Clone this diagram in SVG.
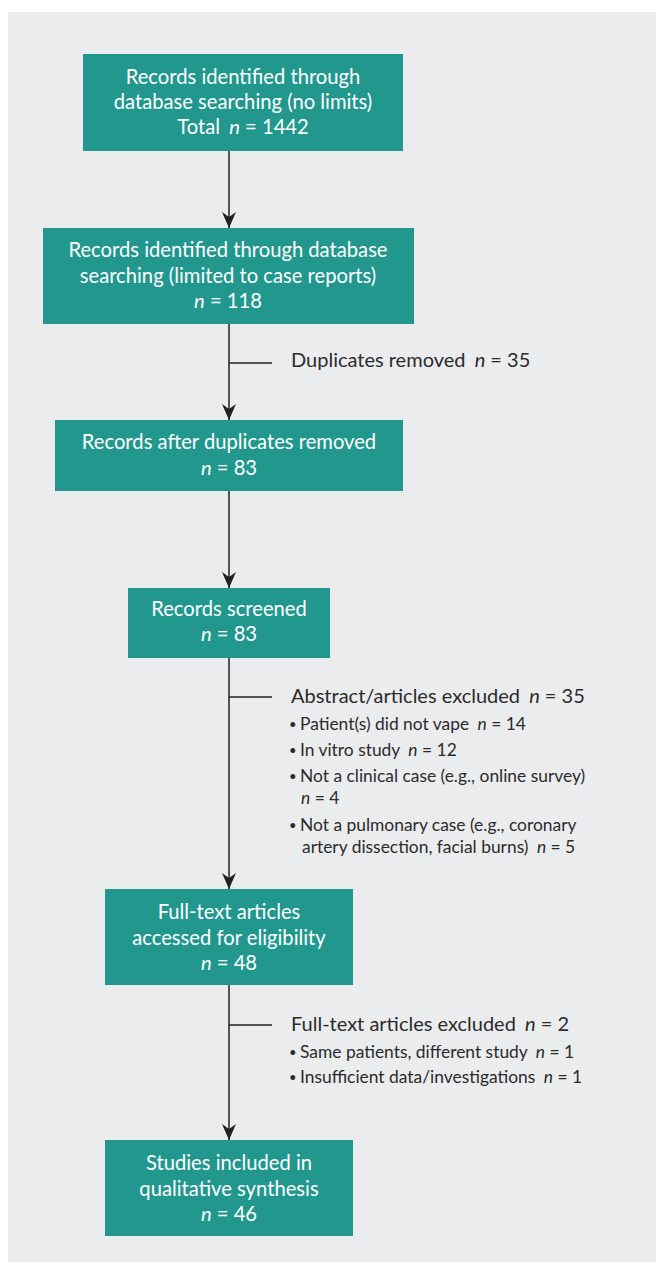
<svg xmlns="http://www.w3.org/2000/svg" width="656" height="1268" viewBox="0 0 656 1268">
<style>
.bx{fill:#21978e}
.bt{font-family:Lato,"Liberation Sans",sans-serif;font-size:20.2px;fill:#ffffff;text-anchor:middle}
.hd{font-family:Lato,"Liberation Sans",sans-serif;font-size:20px;fill:#2b2b2b}
.bl{font-family:Lato,"Liberation Sans",sans-serif;font-size:17.4px;fill:#2b2b2b}
.bu{font-size:13px}
.ln{stroke:#222;stroke-width:1.5;fill:none}
.it{font-style:italic}
</style>
<defs>
<marker id="ah" viewBox="0 0 16 14" refX="16" refY="7" markerWidth="16" markerHeight="14" markerUnits="userSpaceOnUse" orient="auto">
<path d="M0,0 L16,7 L0,14 L5,7 Z" fill="#222"/>
</marker>
</defs>
<rect x="8" y="12" width="648" height="1250" fill="#ebecee"/>
<g id="connectors">
<line class="ln" x1="229" y1="151" x2="229" y2="228" marker-end="url(#ah)"/>
<line class="ln" x1="229" y1="324" x2="229" y2="420" marker-end="url(#ah)"/>
<line class="ln" x1="229" y1="363" x2="272" y2="363"/>
<line class="ln" x1="229" y1="491" x2="229" y2="588" marker-end="url(#ah)"/>
<line class="ln" x1="229" y1="658" x2="229" y2="889" marker-end="url(#ah)"/>
<line class="ln" x1="229" y1="697" x2="272" y2="697"/>
<line class="ln" x1="229" y1="985" x2="229" y2="1140" marker-end="url(#ah)"/>
<line class="ln" x1="229" y1="1025" x2="272" y2="1025"/>
</g>
<g id="n1">
<rect class="bx" x="83" y="54" width="320" height="97"/>
<text class="bt" x="243" y="84">Records identified through</text>
<text class="bt" x="243" y="109">database searching (no limits)</text>
<text class="bt" x="243" y="134">Total <tspan class="it" dx="4">n</tspan> = 1442</text>
</g>
<g id="n2">
<rect class="bx" x="43" y="228" width="371" height="96"/>
<text class="bt" x="228" y="257">Records identified through database</text>
<text class="bt" x="228" y="283">searching (limited to case reports)</text>
<text class="bt" x="228" y="308"><tspan class="it">n</tspan> = 118</text>
</g>
<g id="n3">
<rect class="bx" x="55" y="420" width="348" height="71"/>
<text class="bt" x="229" y="449">Records after duplicates removed</text>
<text class="bt" x="229" y="475"><tspan class="it">n</tspan> = 83</text>
</g>
<g id="n4">
<rect class="bx" x="128" y="588" width="202" height="70"/>
<text class="bt" x="229" y="616">Records screened</text>
<text class="bt" x="229" y="641"><tspan class="it">n</tspan> = 83</text>
</g>
<g id="n5">
<rect class="bx" x="105" y="889" width="248" height="96"/>
<text class="bt" x="229" y="919">Full-text articles</text>
<text class="bt" x="229" y="945">accessed for eligibility</text>
<text class="bt" x="229" y="970"><tspan class="it">n</tspan> = 48</text>
</g>
<g id="n6">
<rect class="bx" x="105" y="1140" width="248" height="96"/>
<text class="bt" x="229" y="1170">Studies included in</text>
<text class="bt" x="229" y="1196">qualitative synthesis</text>
<text class="bt" x="229" y="1221"><tspan class="it">n</tspan> = 46</text>
</g>
<g id="dup">
<text class="hd" x="291" y="367">Duplicates removed <tspan class="it" dx="4">n</tspan> = 35</text>
</g>
<g id="excl1">
<text class="bl" x="289" y="729"><tspan class="bu">•</tspan></text>
<text class="hd" x="291" y="703">Abstract/articles excluded <tspan class="it" dx="4">n</tspan> = 35</text>
<text class="bl" x="300" y="730">Patient(s) did not vape <tspan class="it" dx="4">n</tspan> = 14</text>
<text class="bl" x="289" y="755"><tspan class="bu">•</tspan></text>
<text class="bl" x="300" y="756">In vitro study <tspan class="it" dx="4">n</tspan> = 12</text>
<text class="bl" x="289" y="781"><tspan class="bu">•</tspan></text>
<text class="bl" x="300" y="782">Not a clinical case (e.g., online survey)</text>
<text class="bl" x="301" y="804"><tspan class="it">n</tspan> = 4</text>
<text class="bl" x="289" y="830"><tspan class="bu">•</tspan></text>
<text class="bl" x="300" y="831">Not a pulmonary case (e.g., coronary</text>
<text class="bl" x="302" y="853">artery dissection, facial burns) <tspan class="it" dx="4">n</tspan> = 5</text>
</g>
<g id="excl2">
<text class="hd" x="291" y="1031">Full-text articles excluded <tspan class="it" dx="4">n</tspan> = 2</text>
<text class="bl" x="289" y="1057"><tspan class="bu">•</tspan></text>
<text class="bl" x="300" y="1058">Same patients, different study <tspan class="it" dx="4">n</tspan> = 1</text>
<text class="bl" x="289" y="1082"><tspan class="bu">•</tspan></text>
<text class="bl" x="300" y="1083">Insufficient data/investigations <tspan class="it" dx="4">n</tspan> = 1</text>
</g>
</svg>
